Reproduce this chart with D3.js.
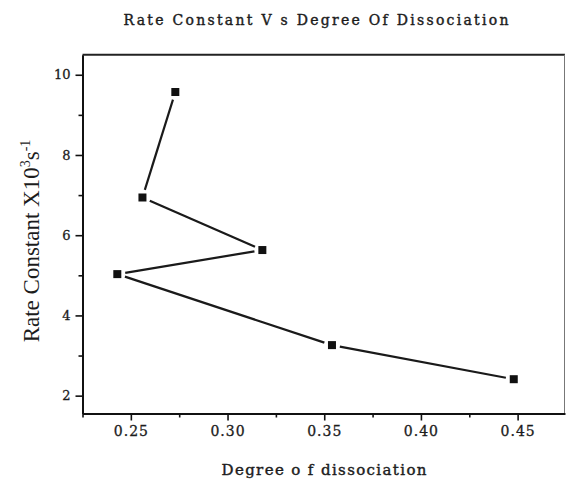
<!DOCTYPE html>
<head>
  <meta charset="utf-8">
  <script src="https://d3js.org/d3.v7.min.js"></script>
  <style>
    body { margin: 0; background: #fff; }
    text { fill: #1c1c1c; }
  </style>
</head>
<body>
  <svg width="566" height="479"></svg>
  <script>
    // data
    const degree = [0.273, 0.256, 0.318, 0.243, 0.354, 0.448];
    const rateConst = [9.57, 6.94, 5.63, 5.03, 3.26, 2.41];
    const xMajor = [0.25, 0.30, 0.35, 0.40, 0.45];
    const xMinor = [0.225, 0.275, 0.325, 0.375, 0.425];
    const yMajor = [2, 4, 6, 8, 10];
    const yMinor = [3, 5, 7, 9];

    const svg = d3.select('svg');
    const x = d3.scaleLinear().domain([0.225, 0.4745]).range([82.5, 565]);
    const y = d3.scaleLinear().domain([1.555, 10.5]).range([413.5, 54.7]);

    // frame: top + right
    svg.append('line')
      .attr('x1', x.range()[0]).attr('x2', x.range()[1])
      .attr('y1', y.range()[1]).attr('y2', y.range()[1])
      .attr('stroke', '#222').attr('stroke-width', 2);
    svg.append('line')
      .attr('x1', x.range()[1] - 0.5).attr('x2', x.range()[1] - 0.5)
      .attr('y1', y.range()[1]).attr('y2', y.range()[0])
      .attr('stroke', '#777').attr('stroke-width', 1);

    const styleAxis = g => {
      g.select('.domain').attr('stroke', '#111').attr('stroke-width', 2);
      g.selectAll('.tick line').attr('stroke', '#111').attr('stroke-width', 1.6);
      g.selectAll('text').attr('fill', '#1c1c1c')
        .attr('stroke', '#1c1c1c').attr('stroke-width', 0.3)
        .attr('font-family', 'DejaVu Serif').attr('font-size', 14);
    };

    const gx = svg.append('g').attr('transform', `translate(0,${y.range()[0]})`)
      .call(d3.axisBottom(x).tickValues(xMajor).tickSize(7).tickSizeOuter(0)
        .tickPadding(6).tickFormat(d3.format('.2f')))
      .call(styleAxis);
    gx.selectAll('text').attr('letter-spacing', 1);
    svg.append('g').attr('transform', `translate(0,${y.range()[0]})`)
      .call(d3.axisBottom(x).tickValues(xMinor).tickSize(4).tickFormat(''))
      .call(g => g.select('.domain').remove())
      .call(styleAxis);

    svg.append('g').attr('transform', `translate(${x.range()[0]},0)`)
      .call(d3.axisLeft(y).tickValues(yMajor).tickSize(7).tickSizeOuter(0).tickPadding(5))
      .call(styleAxis)
      .selectAll('text').attr('font-size', 13);
    svg.append('g').attr('transform', `translate(${x.range()[0]},0)`)
      .call(d3.axisLeft(y).tickValues(yMinor).tickSize(4).tickFormat(''))
      .call(g => g.select('.domain').remove())
      .call(styleAxis);

    // line segments, leaving a small gap at each marker
    const pts = degree.map((d, i) => [x(d), y(rateConst[i])]);
    const gap = 8;
    const segs = d3.pairs(pts).map(([a, b]) => {
      const dx = b[0] - a[0], dy = b[1] - a[1];
      const len = Math.hypot(dx, dy);
      const ux = dx / len, uy = dy / len;
      return [a[0] + ux * gap, a[1] + uy * gap, b[0] - ux * gap, b[1] - uy * gap];
    });
    svg.append('g').selectAll('line').data(segs).join('line')
      .attr('x1', d => d[0]).attr('y1', d => d[1])
      .attr('x2', d => d[2]).attr('y2', d => d[3])
      .attr('stroke', '#1a1a1a').attr('stroke-width', 2.2);

    svg.append('g').selectAll('rect').data(pts).join('rect')
      .attr('x', d => d[0] - 4).attr('y', d => d[1] - 4)
      .attr('width', 8).attr('height', 8)
      .attr('fill', '#111');

    // titles
    svg.append('text')
      .attr('x', 316).attr('y', 25)
      .attr('text-anchor', 'middle')
      .attr('font-family', 'DejaVu Serif').attr('font-size', 14)
      .attr('stroke', '#1c1c1c').attr('stroke-width', 0.4)
      .attr('textLength', 385).attr('lengthAdjust', 'spacing')
      .text('Rate Constant V s Degree Of Dissociation');

    svg.append('text')
      .attr('x', 324).attr('y', 475)
      .attr('text-anchor', 'middle')
      .attr('font-family', 'DejaVu Serif').attr('font-size', 15)
      .attr('stroke', '#1c1c1c').attr('stroke-width', 0.4)
      .attr('textLength', 205).attr('lengthAdjust', 'spacing')
      .text('Degree o f dissociation');

    const yl = svg.append('text')
      .attr('transform', 'translate(39,241) rotate(-90)')
      .attr('text-anchor', 'middle')
      .attr('font-family', 'Liberation Serif').attr('font-size', 23);
    yl.append('tspan').text('Rate Constant X10');
    yl.append('tspan').attr('font-size', 14).attr('dy', -9).text('3');
    yl.append('tspan').attr('dy', 9).text('s');
    yl.append('tspan').attr('font-size', 14).attr('dy', -9).text('-1');
  </script>
</body>
